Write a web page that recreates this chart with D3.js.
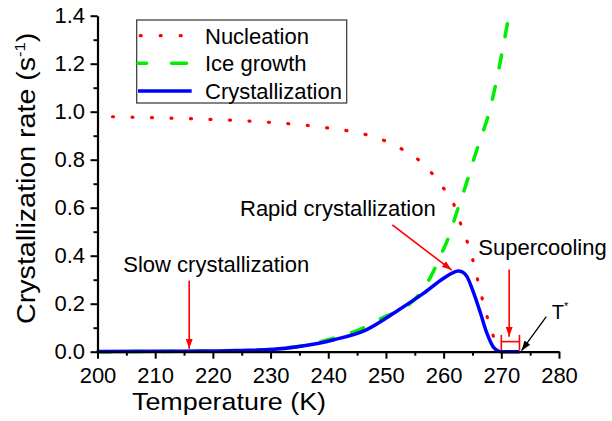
<!DOCTYPE html>
<html>
<head>
<meta charset="utf-8">
<script src="https://cdn.jsdelivr.net/npm/d3@7"></script>
<style>
  html, body { margin: 0; padding: 0; background: #fff; }
  svg { display: block; font-family: "Liberation Sans", Arial, Helvetica, sans-serif; }
</style>
</head>
<body>
<svg id="chart" width="612" height="421"></svg>
<script>
// ---- data ----
const xTicks = [200, 210, 220, 230, 240, 250, 260, 270, 280];
const yTicks = [0.0, 0.2, 0.4, 0.6, 0.8, 1.0, 1.2, 1.4];
const xMinorTicks = [205, 215, 225, 235, 245, 255, 265, 275];
const yMinorTicks = [0.1, 0.3, 0.5, 0.7, 0.9, 1.1, 1.3];

const seriesNames = ["Nucleation", "Ice growth", "Crystallization"];

const nucT = [202.6, 206.0, 209.4, 212.7, 216.2, 219.5, 222.9, 226.3, 229.6, 233.0, 236.3, 239.7, 243.0, 246.3, 249.3, 252.3, 255.1, 257.6, 259.7, 261.7, 262.6, 263.8, 264.9, 265.8, 266.6, 267.5, 268.4, 269.2, 270.0];
const nucV = [0.979, 0.977, 0.975, 0.973, 0.971, 0.968, 0.965, 0.961, 0.956, 0.950, 0.943, 0.933, 0.922, 0.906, 0.884, 0.850, 0.810, 0.754, 0.690, 0.618, 0.556, 0.479, 0.396, 0.310, 0.230, 0.150, 0.080, 0.030, 0.0];

const growT = [200, 210, 220, 225, 230, 235, 240, 245, 250, 253.4, 255.7, 257.7, 259.4, 260.9, 262.3, 263.8, 265.2, 266.5, 267.7, 269.0, 270.1, 271.3];
const growV = [0.0, 0.001, 0.003, 0.005, 0.010, 0.023, 0.05, 0.088, 0.148, 0.185, 0.238, 0.31, 0.396, 0.48, 0.583, 0.69, 0.80, 0.895, 0.98, 1.11, 1.243, 1.40];

const crysT = [200, 210, 220, 225, 230, 235, 241, 246.5, 252, 256.5, 260, 261.5, 262.5, 263.3, 264.0, 265.2, 266.4, 267.5, 268.6, 269.5, 270.0, 273.15];
const crysV = [0.001, 0.002, 0.003, 0.005, 0.009, 0.022, 0.05, 0.09, 0.171, 0.243, 0.306, 0.328, 0.336, 0.332, 0.315, 0.245, 0.16, 0.077, 0.02, 0.003, 0.0, 0.0];

// ---- chart ----
const svg = d3.select("#chart");
const x = d3.scaleLinear().domain([200, 280]).range([97.5, 559]);
const y = d3.scaleLinear().domain([0, 1.4]).range([351.7, 15.7]);

const defs = svg.append("defs");
function marker(id, color) {
  defs.append("marker").attr("id", id)
    .attr("viewBox", "0 0 10 10").attr("refX", 10).attr("refY", 5)
    .attr("markerWidth", 10).attr("markerHeight", 10)
    .attr("markerUnits", "userSpaceOnUse")
    .attr("orient", "auto")
    .append("path").attr("d", "M0,1.5 L10,5 L0,8.5 Z").attr("fill", color);
}
marker("arrRed", "#ff0000");
marker("arrBlack", "#000000");

const line = d3.line().x(d => x(d[0])).y(d => y(d[1])).curve(d3.curveMonotoneX);
const zip = (a, b) => a.map((t, i) => [t, b[i]]);

// curves
svg.append("path").datum(zip(nucT, nucV)).attr("d", line)
  .attr("fill", "none").attr("stroke", "#ff0000").attr("stroke-width", 3.2)
  .attr("stroke-linecap", "round").attr("stroke-dasharray", "1,18.5");
svg.append("path").datum(zip(growT, growV)).attr("d", line)
  .attr("fill", "none").attr("stroke", "#00ee00").attr("stroke-width", 3.5)
  .attr("stroke-linecap", "round").attr("stroke-dasharray", "13,19");
svg.append("path").datum(zip(crysT, crysV)).attr("d", line)
  .attr("fill", "none").attr("stroke", "#0000ff").attr("stroke-width", 3.5)
  .attr("stroke-linejoin", "round");

// axes
const fmtY = d3.format(".1f");
const xAxis = svg.append("g").attr("transform", `translate(0,${y(0)})`)
  .call(d3.axisBottom(x).tickValues(xTicks).tickSize(7).tickSizeOuter(0).tickPadding(8.6));
const xMinor = svg.append("g").attr("transform", `translate(0,${y(0)})`)
  .call(d3.axisBottom(x).tickValues(xMinorTicks).tickSize(4).tickSizeOuter(0).tickFormat(""));
const yAxis = svg.append("g").attr("transform", `translate(${x(200)},0)`)
  .call(d3.axisLeft(y).tickValues(yTicks).tickFormat(fmtY).tickSize(7).tickSizeOuter(0).tickPadding(5.5));
const yMinor = svg.append("g").attr("transform", `translate(${x(200)},0)`)
  .call(d3.axisLeft(y).tickValues(yMinorTicks).tickSize(4).tickSizeOuter(0).tickFormat(""));

[xAxis, xMinor, yAxis, yMinor].forEach(g => {
  g.select(".domain").attr("stroke", "#000").attr("stroke-width", 2.2);
  g.selectAll(".tick line").attr("stroke", "#000").attr("stroke-width", 2);
  g.selectAll(".tick text").attr("font-size", 22).attr("fill", "#000")
    .attr("font-family", "'Liberation Sans', Arial, sans-serif");
});
xMinor.select(".domain").remove();
yMinor.select(".domain").remove();

// axis titles
svg.append("text").attr("transform", "translate(229,410) scale(1.12,1)")
  .attr("text-anchor", "middle").attr("font-size", 24).text("Temperature (K)");
const yt = svg.append("text").attr("transform", "translate(35,178.3) rotate(-90) scale(1.1,1)")
  .attr("text-anchor", "middle").attr("font-size", 26);
yt.append("tspan").text("Crystallization rate (s");
yt.append("tspan").attr("font-size", 15).attr("dy", -10).text("-1");
yt.append("tspan").attr("dy", 10).text(")");

// legend
const lg = svg.append("g");
lg.append("rect").attr("x", 136.7).attr("y", 20).attr("width", 210).attr("height", 83)
  .attr("fill", "#fff").attr("stroke", "#333").attr("stroke-width", 1.2);
const legY = [35.7, 63.3, 91];
lg.append("line").attr("x1", 140.2).attr("x2", 190).attr("y1", legY[0]).attr("y2", legY[0])
  .attr("stroke", "#ff0000").attr("stroke-width", 3.2).attr("stroke-linecap", "round").attr("stroke-dasharray", "1,19");
lg.append("line").attr("x1", 138).attr("x2", 190).attr("y1", legY[1]).attr("y2", legY[1])
  .attr("stroke", "#00ee00").attr("stroke-width", 3.5).attr("stroke-linecap", "round").attr("stroke-dasharray", "8.5,25,15,20");
lg.append("line").attr("x1", 138).attr("x2", 191.7).attr("y1", legY[2]).attr("y2", legY[2])
  .attr("stroke", "#0000ff").attr("stroke-width", 3.5);
seriesNames.forEach((n, i) => {
  lg.append("text").attr("x", 205).attr("y", legY[i] + 7.8).attr("font-size", 22).text(n);
});

// annotations
function arrow(t1, v1, t2, v2, color, id, w) {
  svg.append("line").attr("x1", x(t1)).attr("y1", y(v1)).attr("x2", x(t2)).attr("y2", y(v2))
    .attr("stroke", color).attr("stroke-width", w).attr("marker-end", `url(#${id})`);
}
svg.append("text").attr("x", 123.3).attr("y", 271.5).attr("font-size", 22).text("Slow crystallization");
arrow(215.9, 0.296, 215.9, 0.012, "#ff0000", "arrRed", 1.6);

svg.append("text").attr("x", 240).attr("y", 216).attr("font-size", 22).text("Rapid crystallization");
arrow(251.1, 0.528, 261.4, 0.34, "#ff0000", "arrRed", 1.6);

svg.append("text").attr("x", 478.3).attr("y", 255).attr("font-size", 22).text("Supercooling");
arrow(271.36, 0.343, 271.36, 0.062, "#ff0000", "arrRed", 1.6);
// bracket 270 .. 273.15
const br = svg.append("g").attr("stroke", "#ff0000").attr("stroke-width", 1.6);
br.append("line").attr("x1", x(270)).attr("x2", x(273.15)).attr("y1", y(0.042)).attr("y2", y(0.042));
br.append("line").attr("x1", x(270)).attr("x2", x(270)).attr("y1", y(0.07)).attr("y2", y(0.007));
br.append("line").attr("x1", x(273.15)).attr("x2", x(273.15)).attr("y1", y(0.07)).attr("y2", y(0.007));

const ts = svg.append("text").attr("x", 551.7).attr("y", 319.3).attr("font-size", 20);
ts.append("tspan").text("T");
ts.append("tspan").attr("font-size", 11).attr("dy", -9).text("*");
arrow(277.8, 0.146, 273.5, 0.004, "#000", "arrBlack", 1.3);
</script>
</body>
</html>
